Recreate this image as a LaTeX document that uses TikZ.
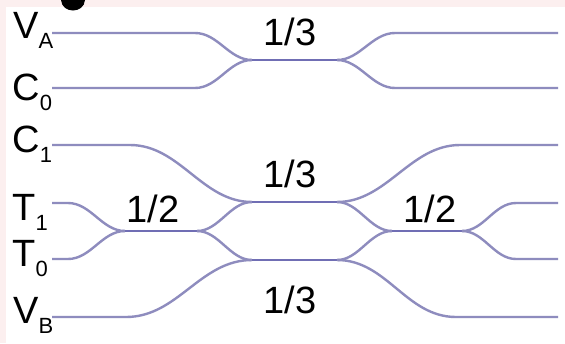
\documentclass[tikz,border=0pt]{standalone}
\usepackage{fontspec}
\setmainfont{Liberation Sans}
\definecolor{wgcol}{RGB}{142,140,190}
\definecolor{cplcol}{RGB}{112,110,180}
\definecolor{paper}{RGB}{252,239,239}
\newcommand{\port}[2]{#1\raisebox{-5pt}{\fontsize{11}{11}\selectfont #2}}

\begin{document}
\begin{tikzpicture}[x=0.5pt,y=-0.5pt,
    wg/.style={draw=wgcol, line width=1.2pt},
    cpl/.style={draw=cplcol, line width=1.4pt},
    portlbl/.style={anchor=base west, inner sep=0pt, font=\fontsize{19}{19}\selectfont},
    ratio/.style={anchor=base, inner sep=0pt, font=\fontsize{19}{19}\selectfont}]
    \useasboundingbox (0,0) rectangle (565,343);
    \fill[white] (0,0) rectangle (565,343);
    \fill[paper] (0,0) rectangle (565,7);
    \fill[paper] (0,0) rectangle (6,343);
    % cut-off panel letter
    \fill[black] (61,0) .. controls (62,14) and (84,14) .. (85,0) -- cycle;

    % input and output ports
    \node[portlbl] (va) at (13,38) {\port{V}{A}};
    \node[portlbl] (c0) at (12,100) {\port{C}{0}};
    \node[portlbl] (c1) at (12,152) {\port{C}{1}};
    \node[portlbl] (t1) at (12,220) {\port{T}{1}};
    \node[portlbl] (t0) at (12,266) {\port{T}{0}};
    \node[portlbl] (vb) at (13,323) {\port{V}{B}};

    % top coupler V_A / C_0
    \draw[wg] (52,33) -- (195,33) .. controls +(23,0) and +(-23,0) .. (252,60);
    \draw[wg] (52,88) -- (195,88) .. controls +(23,0) and +(-23,0) .. (252,60);
    \draw[wg] (337,60) .. controls +(23,0) and +(-23,0) .. (395,33) -- (558,33);
    \draw[wg] (337,60) .. controls +(23,0) and +(-23,0) .. (395,88) -- (558,88);
    \draw[cpl] (252,60) -- (337,60);

    % left 1/2 coupler T_1 / T_0
    \draw[wg] (52,203) -- (68,203) .. controls +(23,0) and +(-23,0) .. (125,231);
    \draw[wg] (52,259) -- (68,259) .. controls +(23,0) and +(-23,0) .. (125,231);
    \draw[cpl] (125,231) -- (197,231);

    % middle couplers
    \draw[wg] (52,145) -- (130,145) .. controls +(50,0) and +(-50,0) .. (252,202);
    \draw[wg] (197,231) .. controls +(22,0) and +(-22,0) .. (252,202);
    \draw[wg] (197,231) .. controls +(22,0) and +(-22,0) .. (252,260);
    \draw[wg] (52,317) -- (126,317) .. controls +(52,0) and +(-52,0) .. (252,260);
    \draw[cpl] (252,202) -- (337,202);
    \draw[cpl] (252,260) -- (337,260);
    \draw[wg] (337,202) .. controls +(50,0) and +(-50,0) .. (460,145) -- (558,145);
    \draw[wg] (337,202) .. controls +(22,0) and +(-22,0) .. (392,231);
    \draw[wg] (337,260) .. controls +(22,0) and +(-22,0) .. (392,231);
    \draw[wg] (337,260) .. controls +(50,0) and +(-50,0) .. (456,317) -- (558,317);

    % right 1/2 coupler
    \draw[cpl] (392,231) -- (462,231);
    \draw[wg] (462,231) .. controls +(22,0) and +(-22,0) .. (516,203) -- (558,203);
    \draw[wg] (462,231) .. controls +(22,0) and +(-22,0) .. (516,259) -- (558,259);

    % splitting ratios
    \node[ratio] (r1) at (290,45) {1/3};
    \node[ratio] (r2) at (290,187) {1/3};
    \node[ratio] (r3) at (290,313) {1/3};
    \node[ratio] (h1) at (153,222) {1/2};
    \node[ratio] (h2) at (430,222) {1/2};
\end{tikzpicture}
\end{document}
